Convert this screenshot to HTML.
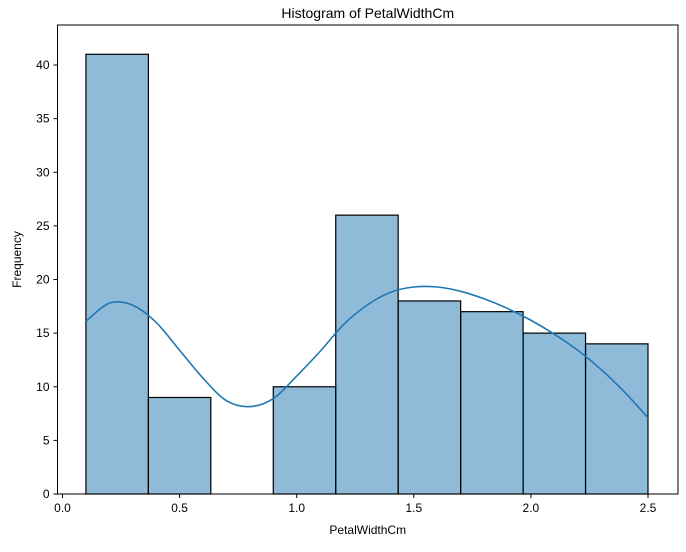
<!DOCTYPE html>
<html><head><meta charset="utf-8"><style>
body{margin:0;background:#fff;}
svg text{font-family:"Liberation Sans","DejaVu Sans",sans-serif;}
</style></head><body>
<svg id="c" width="686" height="547" xmlns="http://www.w3.org/2000/svg"></svg>
<script>
const binEdges=[0.1,0.3667,0.6333,0.9,1.1667,1.4333,1.7,1.9667,2.2333,2.5];
const counts=[41,9,0,10,26,18,17,15,14];
const kdeX=[0.1,0.2,0.3,0.4,0.5,0.6,0.7,0.8,0.9,1.0,1.1,1.2,1.3,1.4,1.5,1.6,1.7,1.8,1.9,2.0,2.1,2.2,2.3,2.4,2.5];
const kdeY=[16.1,17.8,17.6,16.0,13.4,10.8,8.7,8.15,8.9,11.0,13.3,15.8,17.6,18.8,19.3,19.3,18.9,18.2,17.3,16.2,14.9,13.4,11.6,9.5,7.1];
const xTicks=[0,0.5,1,1.5,2,2.5];
const xTickLabels=["0.0","0.5","1.0","1.5","2.0","2.5"];
const yTicks=[0,5,10,15,20,25,30,35,40];

const L=57.5,R=678,T=25,B=494;
const X=v=>62.5+v*234.2;
const Y=v=>B-v*10.725;
const svg=document.getElementById('c');
const NS="http://www.w3.org/2000/svg";
function mk(t,a,p){const e=document.createElementNS(NS,t);for(const k in a)e.setAttribute(k,a[k]);(p||svg).appendChild(e);return e;}

const bars=mk('g',{});


counts.forEach((c,i)=>{
  if(c<=0)return;
  const r=mk('rect',{x:X(binEdges[i]),y:Y(c),width:X(binEdges[i+1])-X(binEdges[i]),height:B-Y(c),fill:'rgba(31,119,180,0.5)',stroke:'#000','stroke-width':1.2},bars);
  
  
});

const pts=kdeX.map((x,i)=>[X(x),Y(kdeY[i])]);
let d='M'+pts[0][0]+','+pts[0][1];
for(let i=0;i<pts.length-1;i++){
  const p0=pts[i-1]||pts[i],p1=pts[i],p2=pts[i+1],p3=pts[i+2]||p2;
  d+=' C'+(p1[0]+(p2[0]-p0[0])/6)+','+(p1[1]+(p2[1]-p0[1])/6)+' '+(p2[0]-(p3[0]-p1[0])/6)+','+(p2[1]-(p3[1]-p1[1])/6)+' '+p2[0]+','+p2[1];
}
const kde=mk('path',{d:d,fill:'none',stroke:'#1f77b4','stroke-width':1.6});



const frame=mk('rect',{x:L,y:T,width:R-L,height:B-T,fill:'none',stroke:'#000','stroke-width':1});



xTicks.forEach((v,i)=>{
  mk('line',{x1:X(v),x2:X(v),y1:B,y2:B+4,stroke:'#000'});
  const t=mk('text',{x:X(v),y:B+18,'font-size':12,'text-anchor':'middle'});
  t.textContent=xTickLabels[i];
  
  
});
yTicks.forEach(v=>{
  mk('line',{x1:L-4,x2:L,y1:Y(v),y2:Y(v),stroke:'#000'});
  const t=mk('text',{x:L-8,y:Y(v)+4,'font-size':12,'text-anchor':'end'});
  t.textContent=v;
  
  
});
const title=mk('text',{x:(L+R)/2,y:18,'font-size':14,'text-anchor':'middle'});
title.textContent='Histogram of PetalWidthCm';


const xt=mk('text',{x:(L+R)/2,y:534,'font-size':12,'text-anchor':'middle'});
xt.textContent='PetalWidthCm';


const yt=mk('text',{x:21,y:(T+B)/2,'font-size':12,'text-anchor':'middle',transform:'rotate(-90 21 '+((T+B)/2)+')'});
yt.textContent='Frequency';


</script>
</body></html>
